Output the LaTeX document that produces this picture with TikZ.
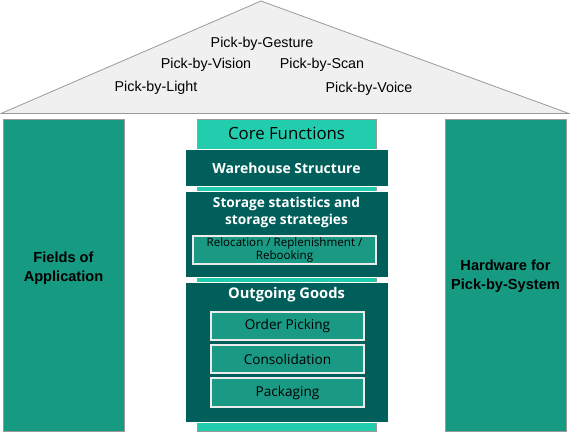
\documentclass[tikz,border=0pt]{standalone}
\usepackage{fontspec}
\setmainfont{Liberation Sans}
\newfontfamily\corefont{Open Sans}
\definecolor{roofgray}{HTML}{F0F0F0}
\definecolor{edgegray}{HTML}{9A9A9A}
\definecolor{pillar}{HTML}{179A82}
\definecolor{lightteal}{HTML}{22CDAE}
\definecolor{darkteal}{HTML}{005F5A}
\definecolor{midteal}{HTML}{1A9A84}
\tikzset{
  pillarbox/.style={draw=edgegray,line width=1pt,fill=pillar,minimum width=121pt,minimum height=312pt,inner sep=0pt},
  darkbox/.style={draw=white,line width=0.8pt,fill=darkteal,minimum width=203pt,inner sep=0pt},
  subbox/.style={draw=white!85!gray,line width=1.2pt,fill=midteal,inner sep=0pt},
  rooftext/.style={font=\fontsize{14.3}{16}\selectfont},
  pillartext/.style={font=\fontsize{14.6}{19}\selectfont\bfseries,align=center},
  titletext/.style={font=\corefont\fontsize{14}{17}\selectfont\bfseries,text=white,align=center},
  subtext/.style={font=\corefont\fontsize{13.6}{15}\selectfont,text=black,align=center},
}
\begin{document}
\begin{tikzpicture}[x=1pt,y=-1pt]
\useasboundingbox (0,0) rectangle (570,432);
% roof
\coordinate (apex) at (261,1);
\coordinate (bl) at (1,113.5);
\coordinate (br) at (569,113.5);
\draw[edgegray,fill=roofgray,line width=0.8pt] (bl) -- (apex) -- (br) -- cycle;
\node[rooftext] (gest) at (262,44) {Pick-by-Gesture};
\node[rooftext] (vis) at (206,65) {Pick-by-Vision};
\node[rooftext] (scan) at (322,65) {Pick-by-Scan};
\node[rooftext] (light) at (156,88) {Pick-by-Light};
\node[rooftext] (voice) at (369,89) {Pick-by-Voice};
% pillars
\node[pillarbox] (left) at (63.5,275) {};
\node[pillartext] (lefttext) at (63.5,268) {Fields of\\Application};
\node[pillarbox] (right) at (505.5,275) {};
\node[pillartext] (righttext) at (505.5,276) {Hardware for\\Pick-by-System};
% core column
\node[draw=edgegray,line width=1pt,fill=lightteal,minimum width=179pt,minimum height=312pt,inner sep=0pt] (core) at (286.5,275) {};
\node[font=\corefont\fontsize{16.8}{19}\selectfont,text=black] (coretext) at (286.5,133) {Core Functions};
% warehouse
\node[darkbox,minimum height=37pt] (wh) at (286.5,167.5) {};
\node[titletext] (whtext) at (286.5,168) {Warehouse Structure};
% storage
\node[darkbox,minimum height=86pt] (st) at (286.5,234) {};
\node[titletext,font=\corefont\fontsize{13.7}{17}\selectfont\bfseries] (sttext) at (286.5,212.5) {Storage statistics and\\storage strategies};
\node[subbox,minimum width=183pt,minimum height=28pt] (reloc) at (284.5,250) {};
\node[subtext,font=\corefont\fontsize{11.6}{13}\selectfont] (reloctext) at (284.5,249.5) {Relocation / Replenishment /\\Rebooking};
% outgoing
\node[darkbox,minimum height=140pt] (out) at (286.5,352) {};
\node[titletext,font=\corefont\fontsize{14.7}{17}\selectfont\bfseries] (outtext) at (286.5,294.5) {Outgoing Goods};
\node[subbox,minimum width=153pt,minimum height=28pt] (op) at (287.5,326) {};
\node[subtext] at (op) {Order Picking};
\node[subbox,minimum width=153pt,minimum height=28pt] (cons) at (287.5,359) {};
\node[subtext] at (cons) {Consolidation};
\node[subbox,minimum width=153pt,minimum height=29pt] (pack) at (287.5,392.5) {};
\node[subtext] at (pack) {Packaging};
\end{tikzpicture}
\end{document}
